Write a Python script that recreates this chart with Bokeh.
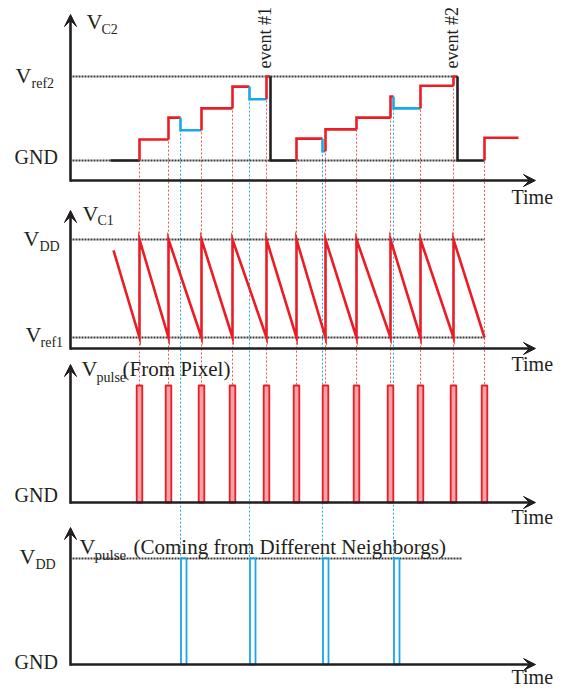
from math import pi
from bokeh.plotting import figure
from bokeh.models import Range1d, Label, Arrow, VeeHead
from bokeh.embed import file_html
from bokeh.resources import INLINE

# ---------------- data (time in arbitrary units, levels normalised) ----------------
pixel_pulse_t = [6.9, 9.8, 13.1, 16.2, 19.6, 22.6, 25.5, 28.6, 32.0, 35.0, 38.3, 41.4]
neighbor_pulse_t = [11.0, 17.9, 25.2, 32.3]
reset_t = [20.0, 38.7]
event_labels = ["event #1", "event #2"]
vc2_start_t = 4.0
vc2_end_t = 44.8
# VC2 level after each change, in chronological order (GND = 0, Vref2 = 1)
vc2_levels = [0.0, 0.25, 0.51, 0.36, 0.62, 0.88, 0.73, 1.0, 0.0, 0.26, 0.11,
              0.37, 0.51, 0.76, 0.62, 0.89, 1.0, 0.0, 0.27]
# VC1 ramp start (Vref1 = 0, VDD = 1)
vc1_start_t = 4.3
vc1_start_v = 0.89
ref_end_t = {"p1": 38.7, "p2": 41.4, "p4": 39.2}
time_end_t = 46.5

# ---------------- layout (page pixels, top-origin) ----------------
W, H = 562, 688
T0_PX, PX_PER_T = 70, 10
panels = {  # zero level px, one level px, axis px, arrow-top px
    "p1": (160, 76, 180, 14),
    "p2": (337, 239, 348, 210),
    "p3": (502, 385, 502, 364),
    "p4": (664, 558, 664, 527),
}
RED = "#ec1c24"
BLUE = "#1aa7e3"
BLACK = "#231f20"
FONT = "Liberation Serif"


def tx(px):
    return (px - T0_PX) / PX_PER_T


def page_y(panel, v):
    y0, y1 = panels[panel][0], panels[panel][1]
    return y0 - v * (y0 - y1)


p = figure(width=W, height=H, output_backend="svg", toolbar_location=None,
           x_range=Range1d(tx(0), tx(W)), y_range=Range1d(H, 0),
           x_axis_location=None, y_axis_location=None, min_border=0)
p.outline_line_color = None
p.grid.visible = False
p.background_fill_color = "white"
p.border_fill_color = "white"

for name, (y0, y1, _, _) in panels.items():
    p.extra_y_ranges[name] = Range1d((y0 - H) / (y0 - y1), y0 / (y0 - y1))

# ---------------- timeline of VC2 ----------------
events = [(vc2_start_t, "idle")] + [(t, "pixel") for t in pixel_pulse_t] + \
         [(t, "neighbor") for t in neighbor_pulse_t] + [(t, "reset") for t in reset_t]
events.sort()
ev_t = [e[0] for e in events]
ev_src = [e[1] for e in events]
color_of = {"idle": BLACK, "reset": BLACK, "pixel": RED, "neighbor": BLUE}

# ---------------- connectors (dotted verticals) ----------------
for i, (t, s) in enumerate(events):
    if s == "pixel":
        p.segment(x0=t, y0=page_y("p1", vc2_levels[i]), x1=t, y1=page_y("p3", 1.0),
                  line_color="#f0545b", line_width=1, line_dash="2 2")
    elif s == "neighbor":
        p.segment(x0=t, y0=page_y("p1", vc2_levels[i - 1]), x1=t, y1=page_y("p4", 1.0),
                  line_color=BLUE, line_width=1, line_dash="2 2")

# ---------------- dotted reference levels ----------------
for name, levels in (("p1", [0, 1]), ("p2", [0, 1]), ("p4", [1])):
    for lv in levels:
        p.segment(x0=0.2, y0=lv, x1=ref_end_t[name], y1=lv, y_range_name=name,
                  line_color="#3a3a3a", line_width=1.8, line_dash="2 1")

# ---------------- axes ----------------
for name, (_, _, ay, top) in panels.items():
    p.add_layout(Arrow(x_start=0, y_start=ay, x_end=time_end_t, y_end=ay,
                       line_width=2.6, line_color=BLACK,
                       end=VeeHead(size=12, fill_color=BLACK, line_color=BLACK)))
    p.add_layout(Arrow(x_start=0, y_start=ay + 1.2, x_end=0, y_end=top,
                       line_width=2.6, line_color=BLACK,
                       end=VeeHead(size=12, fill_color=BLACK, line_color=BLACK)))

# ---------------- VC2 staircase ----------------
xs, ys, cs = [], [], []
for i in range(len(ev_t)):
    t_next = ev_t[i + 1] if i + 1 < len(ev_t) else vc2_end_t
    if i == 0:
        xs.append([ev_t[i], t_next]); ys.append([vc2_levels[i], vc2_levels[i]])
    else:
        xs.append([ev_t[i], ev_t[i], t_next])
        ys.append([vc2_levels[i - 1], vc2_levels[i], vc2_levels[i]])
    cs.append(color_of[ev_src[i]])
p.multi_line(xs=xs, ys=ys, line_color=cs, line_width=2.6, line_join="miter",
             y_range_name="p1")

# ---------------- VC1 sawtooth ----------------
sx, sy = [vc1_start_t], [vc1_start_v]
for k, t in enumerate(pixel_pulse_t):
    sx.append(t); sy.append(0.0)
    if k < len(pixel_pulse_t) - 1:
        sx.append(t); sy.append(1.0)
p.line(sx, sy, line_color=RED, line_width=2.6, line_join="miter", y_range_name="p2")

# ---------------- pulses ----------------
p.quad(left=[t - 0.28 for t in pixel_pulse_t], right=[t + 0.28 for t in pixel_pulse_t],
       bottom=0, top=1, fill_color="#f6a3a8", line_color=RED, line_width=1.8,
       y_range_name="p3")
p.quad(left=[t + 0.05 for t in neighbor_pulse_t], right=[t + 0.6 for t in neighbor_pulse_t],
       bottom=0, top=1, fill_color="white", line_color=BLUE, line_width=1.8,
       y_range_name="p4")

# ---------------- texts ----------------
def lab(px, py, text, size=20, angle=0.0):
    p.add_layout(Label(x=tx(px), y=py, text=text, text_font=FONT,
                       text_font_size=f"{size}px", text_color=BLACK,
                       text_baseline="middle", text_align="left", angle=angle))


lab(86, 21, "V", 22); lab(101, 29, "C2", 14)
lab(15, 75, "V", 22); lab(31, 83, "ref2", 14)
lab(14, 156, "GND")
for t, txt in zip(reset_t, event_labels):
    lab(t * PX_PER_T + T0_PX - 6, 68, txt, 18, pi / 2)

lab(82, 213, "V", 22); lab(97, 220, "C1", 14)
lab(23, 238, "V", 22); lab(39, 246, "DD", 14)
lab(25, 334, "V", 22); lab(40, 342, "ref1", 14)

lab(81, 368, "V", 22); lab(96, 377, "pulse", 14); lab(122, 368, "(From Pixel)", 21)
lab(14, 494, "GND")

lab(79, 546, "V", 22); lab(94, 554, "pulse", 15)
lab(133, 546, "(Coming from Different Neighborgs)", 21)
lab(19, 556, "V", 22); lab(35, 564, "DD", 14)
lab(14, 661, "GND")

for ay in (196, 363, 516, 676):
    lab(511, ay, "Time")

open("out.html", "w").write(file_html(p, INLINE))
